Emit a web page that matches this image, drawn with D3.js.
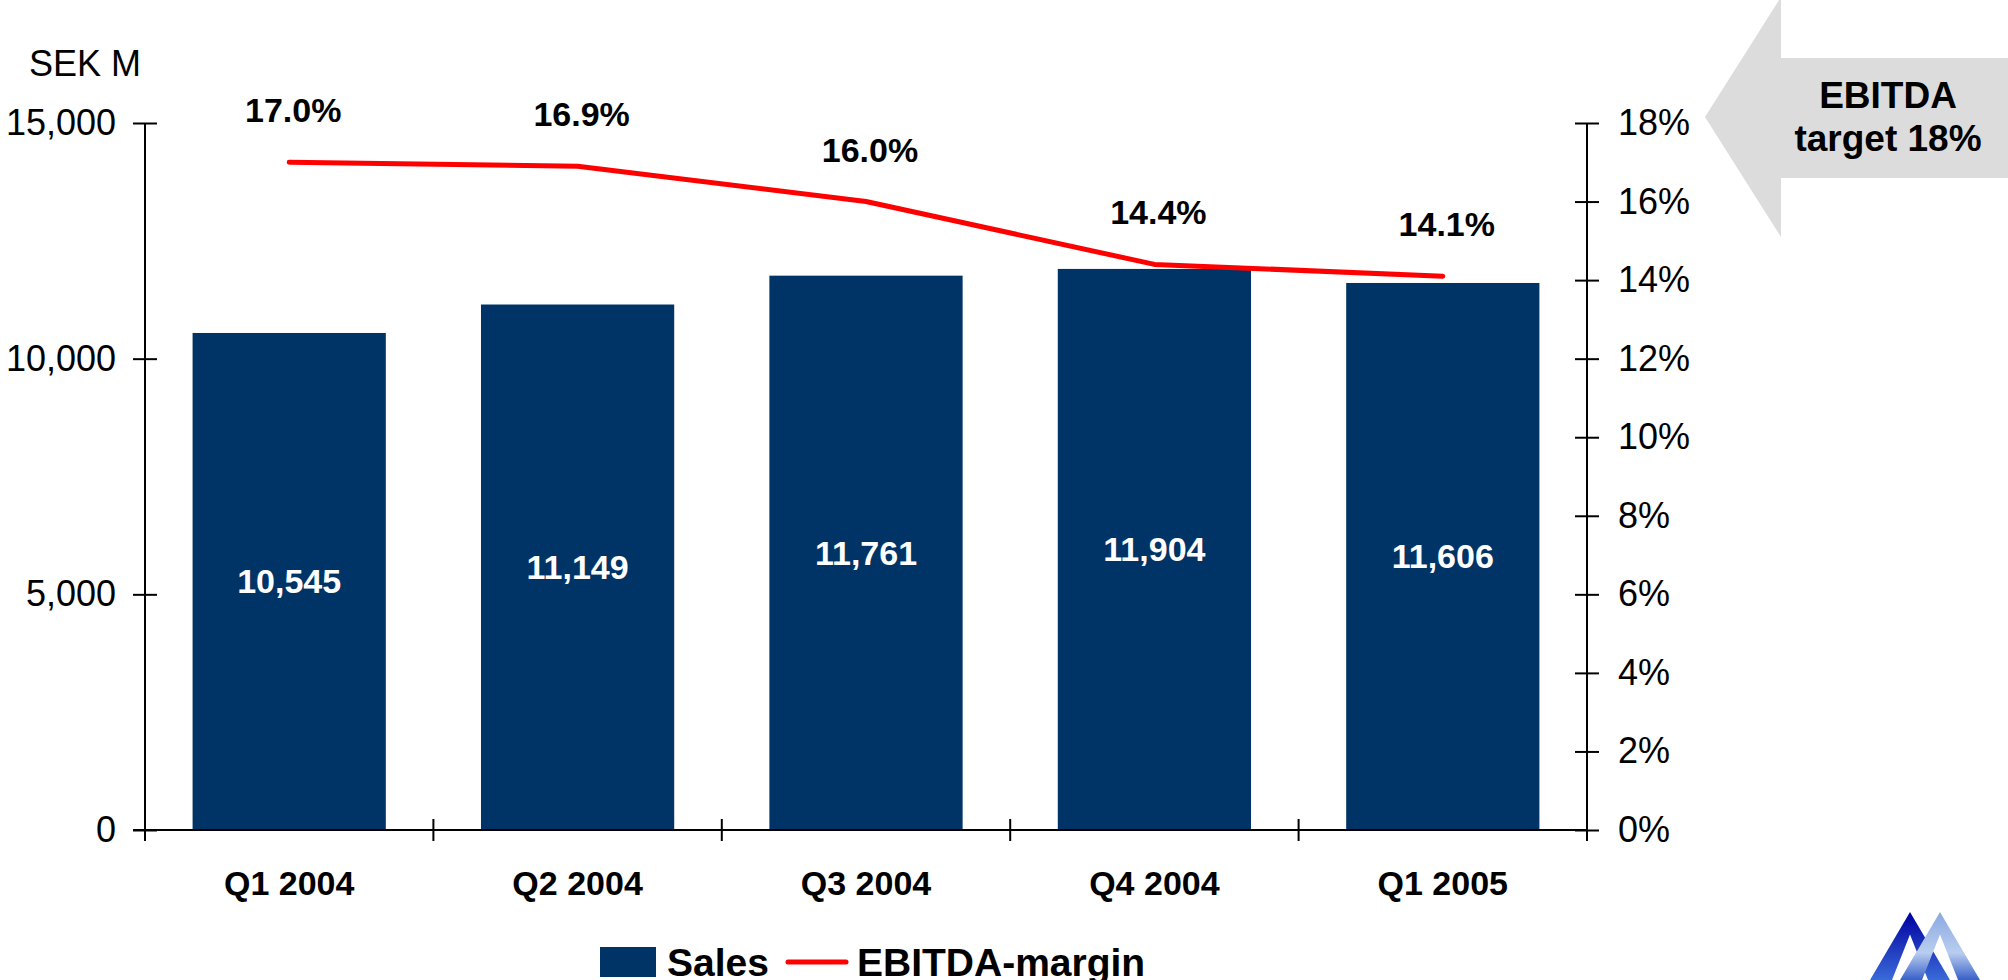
<!DOCTYPE html>
<html>
<head>
<meta charset="utf-8">
<script src="https://cdn.jsdelivr.net/npm/d3@7"></script>
<style>
  body { margin: 0; background: #fff; }
  text { font-family: "Liberation Sans", Arial, sans-serif; }
</style>
</head>
<body>
<div id="plot"></div>
<script>
// data
var quarters = ["Q1 2004", "Q2 2004", "Q3 2004", "Q4 2004", "Q1 2005"];
var sales = [10545, 11149, 11761, 11904, 11606];
var margin_pct = [17.0, 16.9, 16.0, 14.4, 14.1];
var salesTicks = [0, 5000, 10000, 15000];
var pctTicks = [0, 2, 4, 6, 8, 10, 12, 14, 16, 18];

var W = 2008, H = 980;
var plotL = 145, plotR = 1587, plotT = 123, plotB = 830;

var svg = d3.select("#plot")
  .append("svg")
    .attr("width", W)
    .attr("height", H);

var x = d3.scaleBand()
    .domain(quarters)
    .range([plotL, plotR])
    .paddingInner(0.33)
    .paddingOuter(0.165);

var y = d3.scaleLinear()
    .domain([0, 15000])
    .range([plotB, plotT]);

var yR = d3.scaleLinear()
    .domain([0, 18])
    .range([plotB, plotT]);

// target arrow (top right)
var defs = svg.append("defs");
svg.append("path")
    .attr("d", "M1705,117 L1781,-3 L1781,58 L2008,58 L2008,178 L1781,178 L1781,237 Z")
    .attr("fill", "#dcdcdc");
svg.append("text")
    .attr("x", 1888).attr("y", 108)
    .attr("text-anchor", "middle")
    .style("font-size", "37px").style("font-weight", "bold")
    .text("EBITDA");
svg.append("text")
    .attr("x", 1888).attr("y", 151)
    .attr("text-anchor", "middle")
    .style("font-size", "37px").style("font-weight", "bold")
    .text("target 18%");

// bars
svg.append("g")
  .selectAll("rect")
  .data(sales)
  .enter()
  .append("rect")
    .attr("x", (d, i) => x(quarters[i]))
    .attr("y", d => y(d))
    .attr("width", x.bandwidth())
    .attr("height", d => y(0) - y(d))
    .attr("fill", "#003366");

// bar value labels
svg.append("g")
  .selectAll("text")
  .data(sales)
  .enter()
  .append("text")
    .attr("x", (d, i) => x(quarters[i]) + x.bandwidth() / 2)
    .attr("y", d => (y(d) + y(0)) / 2 + 12)
    .attr("text-anchor", "middle")
    .attr("fill", "#fff")
    .style("font-size", "34px").style("font-weight", "bold")
    .text(d3.format(","));

// left axis
var axL = svg.append("g")
    .attr("transform", "translate(" + plotL + ",0)")
    .call(d3.axisLeft(y).tickValues(salesTicks).tickFormat(d3.format(",")).tickSize(12).tickPadding(17));
axL.select(".domain").attr("d", "M0," + plotT + "V" + plotB).attr("stroke", "#000").attr("stroke-width", 2);
axL.selectAll(".tick line").attr("x1", 12).attr("x2", -12).attr("stroke-width", 2);
axL.selectAll(".tick text").style("font-size", "36px").attr("fill", "#000");

// right axis
var axR = svg.append("g")
    .attr("transform", "translate(" + plotR + ",0)")
    .call(d3.axisRight(yR).tickValues(pctTicks).tickFormat(d => d + "%").tickSize(12).tickPadding(19));
axR.select(".domain").attr("d", "M0," + plotT + "V" + plotB).attr("stroke", "#000").attr("stroke-width", 2);
axR.selectAll(".tick line").attr("x1", -12).attr("x2", 12).attr("stroke-width", 2);
axR.selectAll(".tick text").style("font-size", "36px").attr("fill", "#000");

// bottom axis
var bounds = d3.range(quarters.length + 1).map(i => plotL + i * (plotR - plotL) / quarters.length);
svg.append("line")
    .attr("x1", plotL - 12).attr("x2", plotR)
    .attr("y1", plotB).attr("y2", plotB)
    .attr("stroke", "#000").attr("stroke-width", 2);
svg.append("g")
  .selectAll("line")
  .data(bounds)
  .enter()
  .append("line")
    .attr("x1", d => d).attr("x2", d => d)
    .attr("y1", plotB - 11).attr("y2", plotB + 11)
    .attr("stroke", "#000").attr("stroke-width", 2);
svg.append("g")
  .selectAll("text")
  .data(quarters)
  .enter()
  .append("text")
    .attr("x", d => x(d) + x.bandwidth() / 2)
    .attr("y", 895)
    .attr("text-anchor", "middle")
    .style("font-size", "34px").style("font-weight", "bold")
    .text(d => d);

// SEK M unit label
svg.append("text")
    .attr("x", 29).attr("y", 76)
    .style("font-size", "36px")
    .text("SEK M");

// EBITDA margin line
var line = d3.line()
    .x((d, i) => x(quarters[i]) + x.bandwidth() / 2)
    .y(d => yR(d));
svg.append("path")
    .datum(margin_pct)
    .attr("d", line)
    .attr("fill", "none")
    .attr("stroke", "#ff0000")
    .attr("stroke-width", 5)
    .attr("stroke-linecap", "round")
    .attr("stroke-linejoin", "round");

svg.append("g")
  .selectAll("text")
  .data(margin_pct)
  .enter()
  .append("text")
    .attr("x", (d, i) => x(quarters[i]) + x.bandwidth() / 2 + 4)
    .attr("y", d => yR(d) - 40)
    .attr("text-anchor", "middle")
    .style("font-size", "34px").style("font-weight", "bold")
    .text(d => d.toFixed(1) + "%");

// legend
var lg = svg.append("g");
lg.append("rect")
    .attr("x", 600).attr("y", 947).attr("width", 56).attr("height", 30)
    .attr("fill", "#003366");
lg.append("text")
    .attr("x", 667).attr("y", 976)
    .style("font-size", "39px").style("font-weight", "bold")
    .text("Sales");
lg.append("line")
    .attr("x1", 788).attr("x2", 846).attr("y1", 962).attr("y2", 962)
    .attr("stroke", "#ff0000").attr("stroke-width", 5).attr("stroke-linecap", "round");
lg.append("text")
    .attr("x", 857).attr("y", 976)
    .style("font-size", "39px").style("font-weight", "bold")
    .text("EBITDA-margin");

// logo, bottom right
var gDark = defs.append("linearGradient").attr("id", "gDark").attr("x1", 0).attr("y1", 0).attr("x2", 0).attr("y2", 1);
gDark.append("stop").attr("offset", "0%").attr("stop-color", "#0000a0");
gDark.append("stop").attr("offset", "100%").attr("stop-color", "#3a6ad8");
var gLight = defs.append("linearGradient").attr("id", "gLight").attr("x1", 0).attr("y1", 0).attr("x2", 0).attr("y2", 1);
gLight.append("stop").attr("offset", "0%").attr("stop-color", "#8aa8e0");
gLight.append("stop").attr("offset", "60%").attr("stop-color", "#b8cdf0");
gLight.append("stop").attr("offset", "100%").attr("stop-color", "#3a60c8");

function chevron(ax, ay, fill) {
  var dx = 40, w = 22, s = (980 - ay) / dx;
  svg.append("path")
    .attr("d", "M" + ax + "," + ay + " L" + (ax + dx) + ",980 L" + (ax + dx - w) + ",980 L" + ax + "," + (ay + w * s * 0.6) +
               " L" + (ax - dx + w) + ",980 L" + (ax - dx) + ",980 Z")
    .attr("fill", fill);
}
chevron(1910, 912, "url(#gDark)");
chevron(1940, 912, "url(#gLight)");
</script>
</body>
</html>
